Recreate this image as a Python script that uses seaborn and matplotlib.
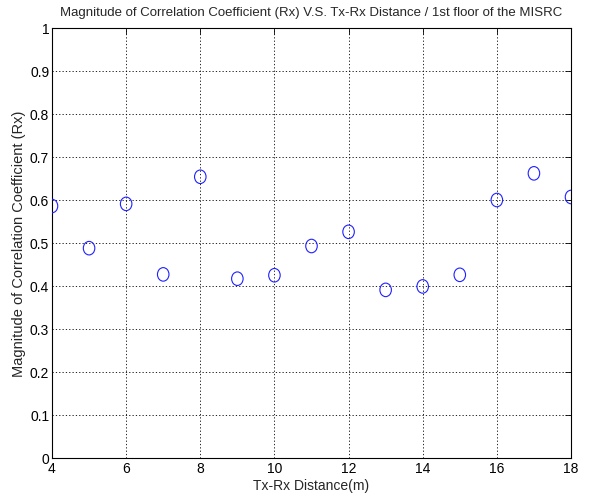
import matplotlib
matplotlib.use("Agg")
import matplotlib.pyplot as plt
import seaborn as sns
import pandas as pd
from matplotlib.path import Path
from matplotlib.transforms import Affine2D

distance = [4, 5, 6, 7, 8, 9, 10, 11, 12, 13, 14, 15, 16, 17, 18]
rx_mag = [0.586, 0.488, 0.591, 0.427, 0.654, 0.417, 0.425, 0.493, 0.526,
          0.391, 0.399, 0.426, 0.600, 0.662, 0.607]
x_ticks = [4, 6, 8, 10, 12, 14, 16, 18]
x_ticklabels = ["4", "6", "8", "10", "12", "14", "16", "18"]
y_ticks = [0, 0.1, 0.2, 0.3, 0.4, 0.5, 0.6, 0.7, 0.8, 0.9, 1]
y_ticklabels = ["0", "0.1", "0.2", "0.3", "0.4", "0.5", "0.6", "0.7", "0.8", "0.9", "1"]

df = pd.DataFrame({"dist": distance, "rx": rx_mag})

sns.set_style("white")
plt.rcParams["font.family"] = ["Liberation Sans", "DejaVu Sans"]

fig = plt.figure(figsize=(5.92, 5.02), dpi=100)
ax = fig.add_axes([52/592, 43/502, 519/592, 430/502])

ellipse = Path.unit_circle().transformed(Affine2D().scale(0.85, 1.0))

sns.scatterplot(data=df, x="dist", y="rx", ax=ax, marker=ellipse, s=95,
                facecolor="none", edgecolor="#2020ff", linewidth=0.8, zorder=3)

ax.set_xlim(4, 18)
ax.set_ylim(0, 1)
ax.set_xticks(x_ticks)
ax.set_xticklabels(x_ticklabels)
ax.set_yticks(y_ticks)
ax.set_yticklabels(y_ticklabels)
ax.grid(True, color="black", linestyle=(0, (1.5, 2.5)), linewidth=0.6)
ax.tick_params(direction="in", length=4, width=0.6, labelsize=10, colors="black",
               top=True, right=True, pad=2)
for sp in ax.spines.values():
    sp.set_visible(True)
    sp.set_color("black")
    sp.set_linewidth(0.8)

ax.set_xlabel("Tx-Rx Distance(m)", fontsize=10, labelpad=2)
ax.set_ylabel("Magnitude of Correlation Coefficient (Rx)", fontsize=10.5, labelpad=3)
ax.set_title("Magnitude of Correlation Coefficient (Rx) V.S. Tx-Rx Distance / 1st floor of the MISRC",
             fontsize=9.5, pad=9)

fig.savefig("out.png", dpi=100, facecolor="white")
